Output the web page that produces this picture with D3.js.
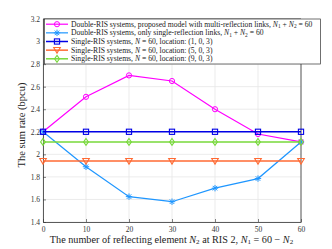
<!DOCTYPE html>
<html><head><meta charset="utf-8">
<script src="https://cdn.jsdelivr.net/npm/d3@7"></script>
<style>body{margin:0;background:#fff}svg{display:block;font-family:"Liberation Serif","DejaVu Serif",serif}</style>
</head><body><svg id="c" width="332" height="249"></svg>
<script>
const xTicks = [0,10,20,30,40,50,60];
const yTicks = [1.4,1.6,1.8,2,2.2,2.4,2.6,2.8,3,3.2];
const n2 = [0,10,20,30,40,50,60];
const multiRefl = [2.20,2.51,2.70,2.65,2.40,2.18,2.11];
const singleRefl = [2.20,1.89,1.625,1.58,1.70,1.785,2.11];
const loc103 = [2.20,2.20,2.20,2.20,2.20,2.20,2.20];
const loc503 = [1.94,1.94,1.94,1.94,1.94,1.94,1.94];
const loc903 = [2.11,2.11,2.11,2.11,2.11,2.11,2.11];

const series = [
  {vals:multiRefl, color:"#ff00ff", marker:"circle", w:1.2},
  {vals:singleRefl, color:"#1e96ff", marker:"star", w:1.2},
  {vals:loc103, color:"#0000e6", marker:"square", w:1.5},
  {vals:loc503, color:"#ff6a33", marker:"tri", w:1.5},
  {vals:loc903, color:"#77d83a", marker:"diamond", w:1.5}
];

const svg = d3.select("#c");
const L=43, R=301, T=19, B=222;
const x = d3.scaleLinear().domain([0,60]).range([L,R]);
const y = d3.scaleLinear().domain([1.4,3.2]).range([B,T]);

svg.append("g").selectAll("line").data(xTicks).join("line")
  .attr("x1",d=>x(d)).attr("x2",d=>x(d)).attr("y1",T).attr("y2",B)
  .attr("stroke","#e6e6e6").attr("stroke-width",0.8);
svg.append("g").selectAll("line").data(yTicks).join("line")
  .attr("y1",d=>y(d)).attr("y2",d=>y(d)).attr("x1",L).attr("x2",R)
  .attr("stroke","#e6e6e6").attr("stroke-width",0.8);

const xa = svg.append("g").attr("transform",`translate(0,${B})`)
  .call(d3.axisBottom(x).tickValues(xTicks).tickSizeInner(-3).tickSizeOuter(0).tickPadding(5).tickFormat(d3.format("d")));
const ya = svg.append("g").attr("transform",`translate(${L},0)`)
  .call(d3.axisLeft(y).tickValues(yTicks).tickSizeInner(-3).tickSizeOuter(0).tickPadding(3).tickFormat(d=>String(+d.toFixed(1))));
[xa,ya].forEach(a=>{
  a.selectAll("text").attr("font-family","'Liberation Serif',serif").attr("font-size",7.5).attr("fill","#333");
  a.select(".domain").attr("stroke","#333").attr("stroke-width",0.8);
  a.selectAll(".tick line").attr("stroke","#333").attr("stroke-width",0.6);
});
svg.append("line").attr("x1",R).attr("x2",R).attr("y1",T).attr("y2",B).attr("stroke","#333").attr("stroke-width",0.8);
svg.append("line").attr("x1",L).attr("x2",R).attr("y1",T).attr("y2",T).attr("stroke","#333").attr("stroke-width",0.8);

function marker(g, type, color, cx, cy){
  const sz=2.6;
  if(type==="circle") g.append("circle").attr("cx",cx).attr("cy",cy).attr("r",sz).attr("fill","none").attr("stroke",color).attr("stroke-width",1);
  else if(type==="square") g.append("rect").attr("x",cx-sz).attr("y",cy-sz).attr("width",2*sz).attr("height",2*sz).attr("fill","none").attr("stroke",color).attr("stroke-width",1.1);
  else if(type==="tri") g.append("path").attr("d",`M${cx-3.3},${cy-2.6}L${cx+3.3},${cy-2.6}L${cx},${cy+3}Z`).attr("fill","none").attr("stroke",color).attr("stroke-width",1.1);
  else if(type==="diamond") g.append("path").attr("d",`M${cx},${cy-3.4}L${cx+2.4},${cy}L${cx},${cy+3.4}L${cx-2.4},${cy}Z`).attr("fill","none").attr("stroke",color).attr("stroke-width",1.1);
  else if(type==="star"){
    const r=3.2;
    for(let a=0;a<4;a++){const t=a*Math.PI/4;
      g.append("line").attr("x1",cx-r*Math.cos(t)).attr("y1",cy-r*Math.sin(t)).attr("x2",cx+r*Math.cos(t)).attr("y2",cy+r*Math.sin(t)).attr("stroke",color).attr("stroke-width",1);}
  }
}

const line = d3.line().x((d,i)=>x(n2[i])).y(d=>y(d));
series.forEach(s=>{
  const g = svg.append("g");
  g.append("path").datum(s.vals).attr("d",line).attr("fill","none").attr("stroke",s.color).attr("stroke-width",s.w);
  s.vals.forEach((v,i)=>marker(g,s.marker,s.color,x(n2[i]),y(v)));
});

svg.append("text").attr("x",171.5).attr("y",242.5).attr("text-anchor","middle").attr("font-size",10.2).attr("fill","#222")
  .call(t=>{t.append("tspan").text("The number of reflecting element ");
    t.append("tspan").attr("font-style","italic").text("N");
    t.append("tspan").attr("font-size",7).attr("dy",1.6).text("2");
    t.append("tspan").attr("dy",-1.6).text(" at RIS 2, ");
    t.append("tspan").attr("font-style","italic").text("N");
    t.append("tspan").attr("font-size",7).attr("dy",1.6).text("1");
    t.append("tspan").attr("dy",-1.6).text(" = 60 \u2212 ");
    t.append("tspan").attr("font-style","italic").text("N");
    t.append("tspan").attr("font-size",7).attr("dy",1.6).text("2");});
svg.append("text").attr("transform",`translate(25,125) rotate(-90)`).attr("text-anchor","middle")
  .attr("font-size",10.5).attr("fill","#222").text("The sum rate (bpcu)");

const LX=44.5, LY=19, LW=276, LH=45;
const lg = svg.append("g");
lg.append("rect").attr("x",LX).attr("y",LY).attr("width",LW).attr("height",LH).attr("fill","#fff").attr("stroke","#333").attr("stroke-width",0.7);
const legendTexts = [
  [["Double-RIS systems, proposed model with multi-reflection links, ",""],["N","i"],["1","s"],[" + ",""],["N","i"],["2","s"],[" = 60",""]],
  [["Double-RIS systems, only single-reflection links, ",""],["N","i"],["1","s"],[" + ",""],["N","i"],["2","s"],[" = 60",""]],
  [["Single-RIS systems, ",""],["N","i"],[" = 60, location: (1, 0, 3)",""]],
  [["Single-RIS systems, ",""],["N","i"],[" = 60, location: (5, 0, 3)",""]],
  [["Single-RIS systems, ",""],["N","i"],[" = 60, location: (9, 0, 3)",""]]
];
series.forEach((s,i)=>{
  const cy = LY+5.2+i*8.65;
  lg.append("line").attr("x1",46).attr("x2",68).attr("y1",cy).attr("y2",cy).attr("stroke",s.color).attr("stroke-width",s.w);
  marker(lg,s.marker,s.color,57,cy);
  const t = lg.append("text").attr("x",71).attr("y",cy+2.5).attr("font-size",7.65).attr("fill","#222");
  let sub=false;
  legendTexts[i].forEach(([str,f])=>{
    const ts=t.append("tspan").text(str);
    if(f==="i") ts.attr("font-style","italic");
    if(f==="s"){ts.attr("font-size",5.4).attr("dy",1.3);sub=true;}
    else if(sub){ts.attr("dy",-1.3);sub=false;}
  });
});
</script></body></html>
